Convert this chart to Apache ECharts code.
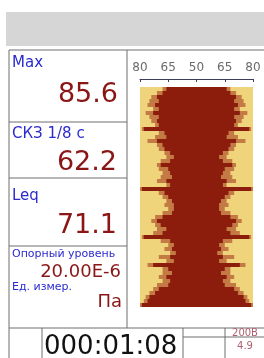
<!DOCTYPE html>
<html><head><meta charset="utf-8">
<script src="https://cdn.jsdelivr.net/npm/echarts@6/dist/echarts.min.js"></script>
<style>html,body{margin:0;padding:0;background:#fff}#c{width:264px;height:358px}</style>
</head><body><div id="c"></div>
<script>
// time rows (top to bottom)
var rows = [];
for (var r = 0; r < 55; r++) rows.push('t' + r);
// RMS level per row (dB) - dark red body
var rmsLevel = [66,68,71,70,72,70,73,70,71,70,78,67,66,71,68,67,64,62,64,69,65,64,63,66,64,79,67,65,63,62,62,63,68,71,69,66,68,78,64,62,63,61,64,62,73,65,63,66,64,65,70,72,75,76,79];
// peak level per row (dB) - lighter fringe
var peakLevel = [68,71,74,75,76,73,77,75,74,72,79,70,72,76,71,70,67,66,69,71,70,68,69,71,66,80,70,68,66,67,65,68,72,74,72,71,73,79,69,65,67,64,70,66,76,68,68,70,68,71,73,75,77,78,80];
var axisTicks = [80,65,50,65,80];
var centerLevel = 50;

var FONT = 'DejaVu Sans';
var BLUE = '#2a2ad0', RED = '#8a1616';

var chart = echarts.init(document.getElementById('c'));
var lineStyle = {stroke:'#6e6e6e', lineWidth:1};
function hline(x1,x2,y){ return {type:'line', shape:{x1:x1,y1:y,x2:x2,y2:y}, style:lineStyle, silent:true}; }
function vline(x,y1,y2){ return {type:'line', shape:{x1:x,y1:y1,x2:x,y2:y2}, style:lineStyle, silent:true}; }
function txt(x,y,s,size,color,align,weight){ return {type:'text', x:x, y:y, style:{text:s, font:(weight||'normal')+' '+size+'px "'+FONT+'"', fill:color, textAlign:align||'left', textVerticalAlign:'bottom'}, silent:true}; }
// symmetric band: invisible base from -(v-50), then visible span of 2*(v-50)
function band(levels, color, stackName){
  return [
    {type:'bar', stack:stackName, stackStrategy:'all', barWidth:'100%', barGap:'-100%',
     data:levels.map(function(v){ return -(v-centerLevel); }), itemStyle:{color:'rgba(0,0,0,0)'}, silent:true},
    {type:'bar', stack:stackName, stackStrategy:'all', barWidth:'100%', barGap:'-100%',
     data:levels.map(function(v){ return 2*(v-centerLevel); }), itemStyle:{color:color}}
  ];
}

chart.setOption({
  animation:false,
  backgroundColor:'#ffffff',
  grid:{left:140, right:11, top:87, bottom:51, show:true, backgroundColor:'#efd47c', borderWidth:0},
  xAxis:{type:'value', position:'top', min:-30, max:30, interval:15, offset:8,
    axisLine:{show:true, lineStyle:{color:'#3c3c5c', width:1}},
    axisTick:{show:true, inside:true, length:3, lineStyle:{color:'#3c3c5c'}},
    splitLine:{show:false},
    axisLabel:{color:'#6a6a6a', fontSize:12, fontFamily:FONT, margin:5,
      formatter:function(v){ return String(centerLevel + Math.abs(v)); }}
  },
  yAxis:{type:'category', data:rows, inverse:true, show:false, boundaryGap:true},
  series: band(peakLevel, '#c47a44', 'peak').concat(band(rmsLevel, '#8c1c0c', 'rms')),
  graphic:[
    {type:'rect', shape:{x:6,y:12,width:258,height:34}, style:{fill:'#d6d6d6'}, silent:true},
    hline(9,264,50), vline(9,50,358), vline(127,50,328),
    hline(9,127,122), hline(9,127,178), hline(9,127,246), hline(9,264,328),
    vline(42,328,358), vline(183,328,358), vline(225,328,358), hline(183,264,337),
    txt(12,71,'Max',15,BLUE),
    txt(118,108,'85.6',27,RED,'right'),
    txt(12,142,'СКЗ 1/8 с',15,BLUE),
    txt(117,176,'62.2',27,RED,'right'),
    txt(12,204,'Leq',15,BLUE),
    txt(117,239,'71.1',27,RED,'right'),
    txt(12,260,'Опорный уровень',11,BLUE),
    txt(121,281,'20.00E-6',18,RED,'right'),
    txt(12,293,'Ед. измер.',11,BLUE),
    txt(122,311,'Па',18,RED,'right'),
    txt(44,360,'000:01:08',26,'#111111'),
    txt(245,338,'200В',10,'#b06070','center'),
    txt(245,351,'4.9',10,'#b06070','center')
  ]
});
</script></body></html>
